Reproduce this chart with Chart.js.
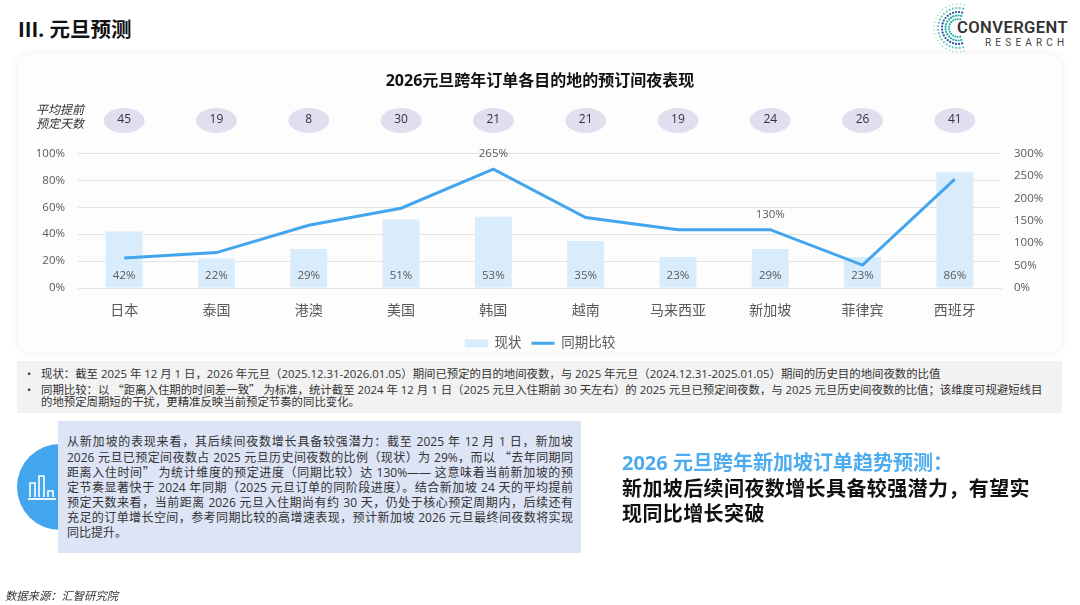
<!DOCTYPE html>
<html lang="zh-CN">
<head>
<meta charset="utf-8">
<script src="https://cdn.jsdelivr.net/npm/chart.js@4"></script>
<style>
  html, body { margin: 0; padding: 0; background: #fff; }
  body { width: 1080px; height: 605px; position: relative; overflow: hidden;
         font-family: "Open Sans", "Noto Sans CJK SC", sans-serif; color: #222; }
  .abs { position: absolute; white-space: nowrap; }
  .q { font-family: "Noto Sans CJK SC", sans-serif; }
  #card { left: 17px; top: 54px; width: 1045px; height: 299px; background: #fdfdfd;
          border-radius: 14px; box-shadow: 0 0 8px rgba(0,0,0,.07); }
  #chart_dest { position: absolute; left: 0; top: 0; }
  #page_title { left: 18px; top: 15px; font-size: 20.5px; font-weight: 700; color: #111; line-height: 28px; }
  #days_label { left: 36px; top: 103px; font-size: 12px; line-height: 14px; font-style: italic; color: #333; }
  #notes { left: 17px; top: 361px; width: 1045px; height: 52px; background: #f2f2f2; }
  .note { position: absolute; left: 24px; width: 1010px; font-size: 11.4px; line-height: 13px; color: #333; white-space: nowrap; }
  .bullet { position: absolute; left: 10px; font-size: 11px; line-height: 13px; color: #333; }
  #callout { left: 58px; top: 421px; width: 523px; height: 132px; background: #dde4f6; }
  .cl { position: absolute; left: 9px; width: 506px; font-size: 12px; line-height: 15px; color: #333;
        text-align: justify; text-align-last: justify; white-space: nowrap; }
  #circle { left: 17px; top: 444px; width: 86px; height: 86px; border-radius: 50%; background: #42a5ee; }
  #forecast { left: 622px; top: 450px; font-size: 20px; line-height: 25.5px; font-weight: 700; color: #111; letter-spacing: .4px; }
  #forecast span { color: #4dabf0; letter-spacing: 0; }
  #source { left: 5px; top: 587px; font-size: 11.3px; line-height: 17px; font-style: italic; color: #333; }
  #logo_a { left: 957px; top: 17px; font-size: 16.6px; font-weight: 600; line-height: 22px; color: #333;
            font-family: "Roboto", sans-serif; letter-spacing: .4px; }
  #logo_b { left: 985px; top: 36px; font-size: 10px; line-height: 14px; color: #444;
            font-family: "Roboto", sans-serif; letter-spacing: 4.2px; }
</style>
</head>
<body>
<div class="abs" id="card"></div>
<div class="abs" id="page_title">III. 元旦预测</div>

<svg id="logo_dots" class="abs" style="left:930px;top:0" width="60" height="56"></svg>
<div class="abs" id="logo_a">CONVERGENT</div>
<div class="abs" id="logo_b">RESEARCH</div>

<canvas id="chart_dest" width="1080" height="605"></canvas>
<div class="abs" id="days_label">平均提前<br>预定天数</div>

<div class="abs" id="notes">
  <div class="bullet" style="top:6px">•</div>
  <div class="note" style="top:6px">现状：截至 2025 年 12 月 1 日，2026 年元旦（2025.12.31-2026.01.05）期间已预定的目的地间夜数，与 2025 年元旦（2024.12.31-2025.01.05）期间的历史目的地间夜数的比值</div>
  <div class="bullet" style="top:22px">•</div>
  <div class="note" style="top:22px">同期比较：以 <span class="q">“</span>距离入住期的时间差一致<span class="q">”</span> 为标准，统计截至 2024 年 12 月 1 日（2025 元旦入住期前 30 天左右）的 2025 元旦已预定间夜数，与 2025 元旦历史间夜数的比值；该维度可规避短线目</div>
  <div class="note" style="top:34px">的地预定周期短的干扰，更精准反映当前预定节奏的同比变化。</div>
</div>

<div class="abs" id="circle"></div>
<svg class="abs" style="left:26px;top:472px" width="32" height="30">
  <path d="M4 25V11h5v14M13 25V4h5v21M22 25v-6h5v6" fill="none" stroke="#fff" stroke-width="1.6"/>
  <path d="M2 27h28" stroke="#fff" stroke-width="1.8"/>
</svg>
<div class="abs" id="callout">
  <div class="cl" style="top:13px">从新加坡的表现来看，其后续间夜数增长具备较强潜力：截至 2025 年 12 月 1 日，新加坡</div>
  <div class="cl" style="top:28px">2026 元旦已预定间夜数占 2025 元旦历史间夜数的比例（现状）为 29%，而以 <span class="q">“</span>去年同期同</div>
  <div class="cl" style="top:43px">距离入住时间<span class="q">”</span> 为统计维度的预定进度（同期比较）达 130%—— 这意味着当前新加坡的预</div>
  <div class="cl" style="top:59px">定节奏显著快于 2024 年同期（2025 元旦订单的同阶段进度）。结合新加坡 24 天的平均提前</div>
  <div class="cl" style="top:74px">预定天数来看，当前距离 2026 元旦入住期尚有约 30 天，仍处于核心预定周期内，后续还有</div>
  <div class="cl" style="top:89px">充足的订单增长空间，参考同期比较的高增速表现，预计新加坡 2026 元旦最终间夜数将实现</div>
  <div class="cl" style="top:104px;text-align-last:left">同比提升。</div>
</div>

<div class="abs" id="forecast"><span>2026 元旦跨年新加坡订单趋势预测：</span><br>新加坡后续间夜数增长具备较强潜力，有望实<br>现同比增长突破</div>
<div class="abs" id="source">数据来源：汇智研究院</div>

<script>
// dataset
var categories = ["日本", "泰国", "港澳", "美国", "韩国", "越南", "马来西亚", "新加坡", "菲律宾", "西班牙"];
var statusValues = [42, 22, 29, 51, 53, 35, 23, 29, 23, 86];
var yoyValues = [67, 79, 140, 178, 265, 157, 130, 130, 51, 243];
var advanceDays = [45, 19, 8, 30, 21, 21, 19, 24, 26, 41];
var labelledYoy = ["韩国", "新加坡"];
var seriesNames = ["现状", "同期比较"];
var legendStyles = ["rect", "line"];

var labelFont = '"Open Sans", "Noto Sans CJK SC", sans-serif';

// logo dots, decoration only
var dots = "";
var rings = [[9, "#2bb5a8", 14], [12.5, "#1aa5a0", 18], [16, "#1f4e9c", 20], [20, "#5cc7c4", 22], [24, "#9adbd8", 24]];
rings.forEach(function (r) {
  for (var i = 0; i < r[2]; i++) {
    var a = (75 + i * 210 / (r[2] - 1)) * Math.PI / 180;
    dots += '<circle cx="' + (28 + r[0] * Math.cos(a)) + '" cy="' + (28 + r[0] * Math.sin(a)) +
      '" r="' + (r[0] > 20 ? 0.8 : 1.1) + '" fill="' + r[1] + '"/>';
  }
});
document.getElementById("logo_dots").innerHTML = dots;

// ovals above the plot and the value labels, placed through the chart scales
var markLabels = {
  id: "markLabels",
  afterDatasetsDraw: function (chart) {
    var c = chart.ctx, x = chart.scales.x, y1 = chart.scales.y, y2 = chart.scales.y2;
    c.save();
    c.textAlign = "center";
    c.textBaseline = "middle";
    categories.forEach(function (name, i) {
      var px = x.getPixelForValue(i);
      c.fillStyle = "#e0dff0";
      c.beginPath();
      c.ellipse(px, 120.5, 20.5, 12.5, 0, 0, Math.PI * 2);
      c.fill();
      c.fillStyle = "#333";
      c.font = "12px " + labelFont;
      c.fillText(advanceDays[i], px, 120);
      c.fillStyle = "#595959";
      c.font = "11.5px " + labelFont;
      c.fillText(statusValues[i] + "%", px, y1.getPixelForValue(0) - 12);
      if (labelledYoy.indexOf(name) >= 0) {
        c.fillText(yoyValues[i] + "%", px, y2.getPixelForValue(yoyValues[i]) - 15);
      }
    });
    c.restore();
  }
};

var data = {
  labels: categories,
  datasets: [
    { type: "bar", label: seriesNames[0], data: statusValues, yAxisID: "y", order: 2,
      backgroundColor: "#d9ecfb", categoryPercentage: 0.4, barPercentage: 1 },
    { type: "line", label: seriesNames[1], data: yoyValues, yAxisID: "y2", order: 1,
      borderColor: "#42a5ee", backgroundColor: "#42a5ee", borderWidth: 3, pointRadius: 0, tension: 0 }
  ]
};

var options = {
  responsive: false,
  animation: false,
  layout: { padding: { bottom: 245 } },
  plugins: {
    title: {
      display: true,
      text: "2026元旦跨年订单各目的地的预订间夜表现",
      color: "#111",
      font: { family: labelFont, size: 16, weight: "700" },
      padding: { top: 72, bottom: 62.3 }
    },
    legend: {
      position: "bottom",
      labels: {
        color: "#595959",
        font: { family: labelFont, size: 13.5 },
        padding: 10,
        usePointStyle: true,
        pointStyleWidth: 23,
        boxHeight: 8,
        sort: function (a, b) { return a.datasetIndex - b.datasetIndex; },
        generateLabels: function (chart) {
          var items = Chart.defaults.plugins.legend.labels.generateLabels(chart);
          items.forEach(function (item) { item.pointStyle = legendStyles[item.datasetIndex]; });
          return items;
        }
      }
    },
    tooltip: { enabled: false }
  },
  scales: {
    x: {
      grid: { display: false, drawTicks: false },
      border: { color: "#e3e3e3", width: 1 },
      ticks: { color: "#595959", font: { family: labelFont, size: 14 }, padding: 15, maxRotation: 0 },
      afterFit: function (s) { s.height = 38.5; }
    },
    y: {
      position: "left", min: 0, max: 100,
      grid: { color: "#e3e3e3", drawTicks: false },
      border: { display: false },
      ticks: { stepSize: 20, color: "#595959", font: { family: labelFont, size: 11.5 }, padding: 13,
        callback: function (v) { return v + "%"; } },
      afterFit: function (s) { s.width = 78; }
    },
    y2: {
      position: "right", min: 0, max: 300,
      grid: { display: false, drawTicks: false },
      border: { display: false },
      ticks: { stepSize: 50, color: "#595959", font: { family: labelFont, size: 11.5 }, padding: 13,
        callback: function (v) { return v + "%"; } },
      afterFit: function (s) { s.width = 79; }
    }
  }
};

var ctx = document.getElementById("chart_dest");
var myChart = new Chart(ctx, { data: data, options: options, plugins: [markLabels] });
</script>
</body>
</html>
